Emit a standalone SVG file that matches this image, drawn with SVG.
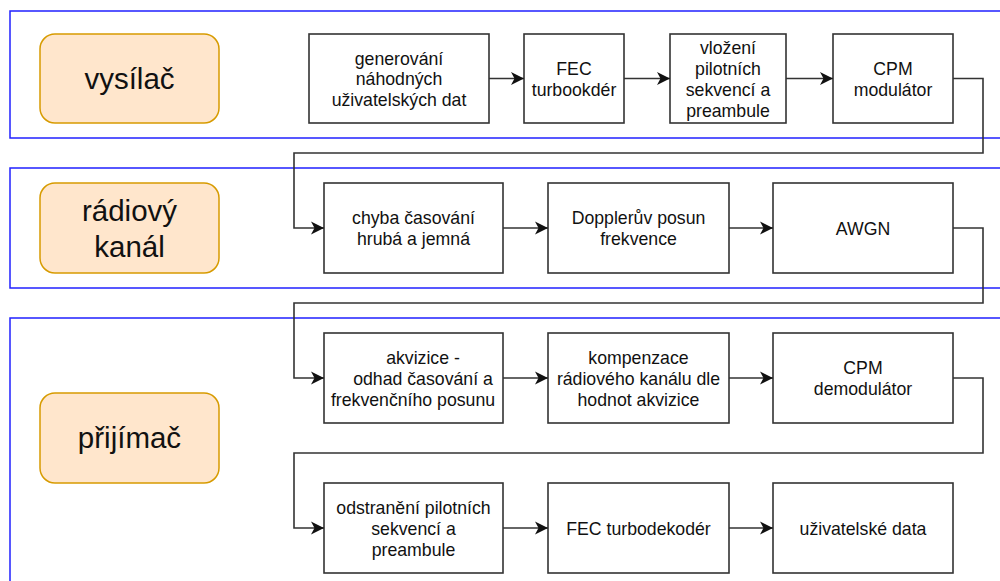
<svg xmlns="http://www.w3.org/2000/svg" width="1000" height="581" viewBox="0 0 1000 581">
<defs>
<marker id="arr" markerUnits="userSpaceOnUse" markerWidth="14" markerHeight="14" refX="13" refY="6.5" orient="auto" viewBox="0 0 14 13">
<path d="M0,0 L13,6.5 L0,13 L3.5,6.5 Z" fill="#111"/>
</marker>
<style>
.lane{fill:none;stroke:#2020ff;stroke-width:1.5}
.lbl{fill:#ffe6cc;stroke:#d79b00;stroke-width:1.5}
.box{fill:#fff;stroke:#333;stroke-width:1.6}
.t{font-family:"Liberation Sans",Arial,sans-serif;font-size:17.7px;fill:#111;text-anchor:middle}
.big{font-family:"Liberation Sans",Arial,sans-serif;font-size:29.5px;fill:#111;text-anchor:middle}
.c{fill:none;stroke:#333;stroke-width:1.6}
</style>
</defs>
<rect width="1000" height="581" fill="#fff"/>
<g id="lanes">
<rect class="lane" x="10" y="11" width="1000" height="127"/>
<rect class="lane" x="10" y="168" width="1000" height="120"/>
<rect class="lane" x="10" y="318" width="1000" height="300"/>
</g>
<g id="lbl-vysilac"><rect class="lbl" x="40" y="34" width="179" height="89" rx="15"/><text class="big" x="129.5" y="89">vysílač</text></g>
<g id="lbl-kanal"><rect class="lbl" x="40" y="183" width="179" height="90" rx="15"/><text class="big" x="129.5" y="220.6">rádiový</text><text class="big" x="129.5" y="256.6">kanál</text></g>
<g id="lbl-prijimac"><rect class="lbl" x="40" y="393" width="179" height="90" rx="15"/><text class="big" x="129.5" y="448">přijímač</text></g>

<g id="n-gen"><rect class="box" x="309" y="34" width="180" height="89"/><text class="t" x="399" y="64.5">generování</text><text class="t" x="399" y="85.3">náhodných</text><text class="t" x="399" y="106.1">uživatelských dat</text></g>
<g id="n-fec"><rect class="box" x="524" y="34" width="100" height="89"/><text class="t" x="574" y="74.9">FEC</text><text class="t" x="574" y="95.7">turbookdér</text></g>
<g id="n-vloz"><rect class="box" x="670" y="34" width="116" height="89"/><text class="t" x="728" y="54">vložení</text><text class="t" x="728" y="74.9">pilotních</text><text class="t" x="728" y="95.7">sekvencí a</text><text class="t" x="728" y="116.5">preambule</text></g>
<g id="n-cpm"><rect class="box" x="833" y="34" width="120" height="89"/><text class="t" x="893" y="74.9">CPM</text><text class="t" x="893" y="95.7">modulátor</text></g>

<g id="n-chyba"><rect class="box" x="324" y="183" width="179" height="90"/><text class="t" x="413.5" y="224.4">chyba časování</text><text class="t" x="413.5" y="245.2">hrubá a jemná</text></g>
<g id="n-doppler"><rect class="box" x="548" y="183" width="181" height="90"/><text class="t" x="638.5" y="224.4">Dopplerův posun</text><text class="t" x="638.5" y="245.2">frekvence</text></g>
<g id="n-awgn"><rect class="box" x="773" y="183" width="180" height="90"/><text class="t" x="863" y="234.5">AWGN</text></g>

<g id="n-akv"><rect class="box" x="324" y="333" width="179" height="90"/><text class="t" x="423" y="364.4">akvizice -</text><text class="t" x="423" y="385.2">odhad časování a</text><text class="t" x="413" y="406">frekvenčního posunu</text></g>
<g id="n-komp"><rect class="box" x="548" y="333" width="181" height="90"/><text class="t" x="638.5" y="364.4">kompenzace</text><text class="t" x="638.5" y="385.2">rádiového kanálu dle</text><text class="t" x="638.5" y="406">hodnot akvizice</text></g>
<g id="n-demod"><rect class="box" x="773" y="333" width="180" height="90"/><text class="t" x="863" y="374.4">CPM</text><text class="t" x="863" y="395.2">demodulátor</text></g>

<g id="n-odstr"><rect class="box" x="324" y="483" width="179" height="90"/><text class="t" x="413.5" y="514.4">odstranění pilotních</text><text class="t" x="413.5" y="535.2">sekvencí a</text><text class="t" x="413.5" y="556">preambule</text></g>
<g id="n-fecdec"><rect class="box" x="548" y="483" width="181" height="90"/><text class="t" x="638.5" y="534.6">FEC turbodekodér</text></g>
<g id="n-data"><rect class="box" x="773" y="483" width="180" height="90"/><text class="t" x="863" y="534.6">uživatelské data</text></g>

<g id="connectors">
<path class="c" d="M489,78.5 H524" marker-end="url(#arr)"/>
<path class="c" d="M624,78.5 H670" marker-end="url(#arr)"/>
<path class="c" d="M786,78.5 H833" marker-end="url(#arr)"/>
<path class="c" d="M953,78.5 H983 V153 H294 V228 H324" marker-end="url(#arr)"/>
<path class="c" d="M503,228 H548" marker-end="url(#arr)"/>
<path class="c" d="M729,228 H773" marker-end="url(#arr)"/>
<path class="c" d="M953,228 H983 V303 H294 V378 H324" marker-end="url(#arr)"/>
<path class="c" d="M503,378 H548" marker-end="url(#arr)"/>
<path class="c" d="M729,378 H773" marker-end="url(#arr)"/>
<path class="c" d="M953,378 H983 V453 H294 V528 H324" marker-end="url(#arr)"/>
<path class="c" d="M503,528 H548" marker-end="url(#arr)"/>
<path class="c" d="M729,528 H773" marker-end="url(#arr)"/>
</g>
</svg>
